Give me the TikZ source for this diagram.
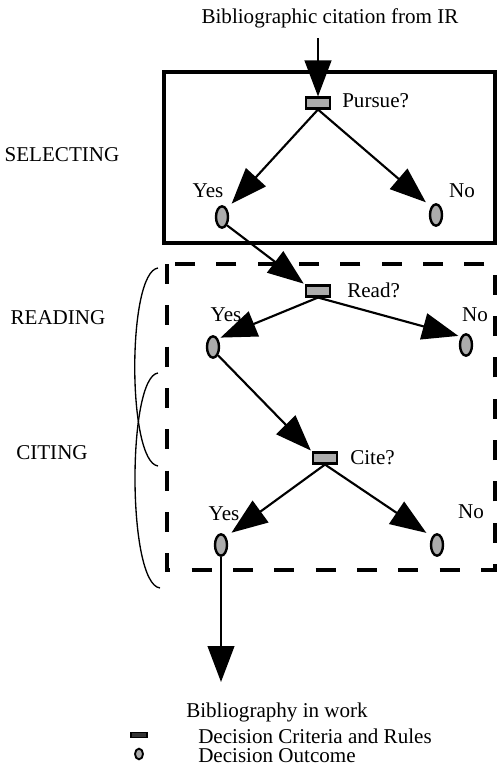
\documentclass[tikz,border=0pt]{standalone}
\usepackage{fontspec}
\setmainfont{Liberation Serif}
\usetikzlibrary{arrows.meta,shapes.geometric}

\tikzset{
  txt/.style={font=\fontsize{15.8}{18}\selectfont, inner sep=0pt},
  crit/.style={draw, line width=1.8pt, fill=gray!65, minimum width=18pt, minimum height=8pt, inner sep=0pt},
  outc/.style={ellipse, draw, line width=1.8pt, fill=gray!65, minimum width=9pt, minimum height=16pt, inner sep=0pt},
  arr/.style={line width=1.6pt, -{Triangle[length=27pt,width=20pt]}},
  brace/.style={line width=1pt},
}

\begin{document}
\begin{tikzpicture}[x=0.75pt,y=0.75pt,yscale=-1,xscale=1]
\useasboundingbox (0,0) rectangle (500,775);

%Shape: Rectangle [selecting]
\draw [line width=2.8pt] (164,72) rectangle (495,243) ;
%Shape: Rectangle [reading and citing]
\draw [line width=3pt, dash pattern=on 15pt off 16pt] (167,264) rectangle (495,570) ;

% Decision nodes
\node [crit] (pursue) at (318,103) {};
\node [crit] (read) at (318,291) {};
\node [crit] (cite) at (325,458) {};
% Outcome nodes
\node [outc] (yes1) at (222,217) {};
\node [outc] (no1) at (436,215) {};
\node [outc] (yes2) at (213,347) {};
\node [outc] (no2) at (466,345) {};
\node [outc] (yes3) at (221,545) {};
\node [outc] (no3) at (437,545) {};

% Text Node
\node [txt] (title) at (330,18) {Bibliographic citation from IR};
\node [txt, anchor=west] (pursuelbl) at (342,101) {Pursue?};
\node [txt, anchor=west] (readlbl) at (347,290) {Read?};
\node [txt, anchor=west] (citelbl) at (350,458) {Cite?};
\node [txt] (yes1lbl) at (208,191) {Yes};
\node [txt] (no1lbl) at (462,191) {No};
\node [txt] (yes2lbl) at (226,315) {Yes};
\node [txt] (no2lbl) at (475,315) {No};
\node [txt] (yes3lbl) at (224,514) {Yes};
\node [txt] (no3lbl) at (471,512) {No};
\node [txt] (selecting) at (62,155) {SELECTING};
\node [txt] (reading) at (58,318) {READING};
\node [txt] (citing) at (52,453) {CITING};
\node [txt] (bib) at (277,712) {Bibliography in work};

%Straight Lines
\coordinate (intop) at (318,38) ;
\coordinate (bibtip) at (221,682) ;
\draw [arr] (intop) -- (pursue.north) ;
\draw [arr, shorten >=5pt] (pursue.south) -- (yes1.north east) ;
\draw [arr, shorten >=5pt] (pursue.south) -- (no1.north west) ;
\draw [arr, shorten >=1pt] (yes1.south east) -- (read.north west) ;
\draw [arr, shorten >=2pt] (read.south) -- (yes2.north east) ;
\draw [arr, shorten >=2pt] (read.south) -- (no2.north west) ;
\draw [arr, shorten >=1pt] (yes2.south east) -- (cite.north west) ;
\draw [arr, shorten >=5pt] (cite.south) -- (yes3.north east) ;
\draw [arr, shorten >=5pt] (cite.south) -- (no3.north west) ;
\draw [arr] (yes3.south) -- (bibtip) ;

%Curve Lines
\draw [brace] (158,268) .. controls (127,272) and (127,462) .. (158,466) ;
\draw [brace] (158,373) .. controls (127,377) and (127,584) .. (160,588) ;

% Legend
\node [crit, fill=black!80, line width=0.8pt, minimum width=12pt, minimum height=4pt] (lgcrit) at (139,735) {};
\node [outc, line width=1.4pt, minimum width=6pt, minimum height=8pt] (lgoutc) at (139,754) {};
\node [txt, anchor=west] (lgcritlbl) at (198,736) {Decision Criteria and Rules};
\node [txt, anchor=west] (lgoutclbl) at (198,756) {Decision Outcome};

\end{tikzpicture}
\end{document}
